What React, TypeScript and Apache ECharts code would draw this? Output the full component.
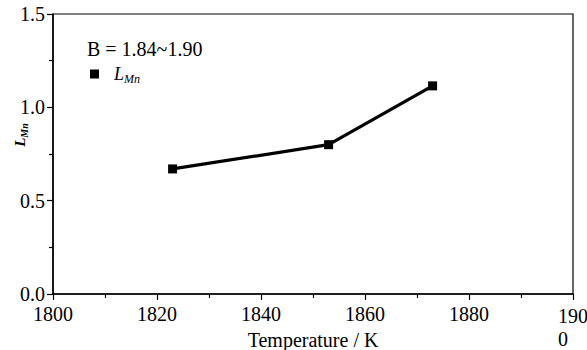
import React, { useEffect, useRef } from "react";
import * as echarts from "echarts";

const temperatures: number[] = [1823, 1853, 1873];
const lMnValues: number[] = [0.67, 0.8, 1.115];
const seriesName = "LMn";
const annotation = "B = 1.84~1.90";
const xTitle = "Temperature / K";

const FONT = "'Liberation Serif', 'Times New Roman', serif";

export default function App() {
  const ref = useRef<HTMLDivElement>(null);
  useEffect(() => {
    if (!ref.current) return;
    const chart = echarts.init(ref.current, null, { renderer: "svg" });
    const data = temperatures.map((t, i) => [t, lMnValues[i]]);
    chart.setOption({
      animation: false,
      backgroundColor: "#fff",
      grid: {
        left: 53,
        right: 14,
        top: 14,
        bottom: 56,
        containLabel: false,
        outerBoundsMode: "none",
        show: true,
        borderColor: "#000",
        borderWidth: 1.2,
      },
      title: {
        text: annotation,
        left: 82,
        top: 34,
        textStyle: { fontFamily: FONT, fontSize: 20, fontWeight: "normal", color: "#000" },
      },
      legend: {
        left: 85,
        top: 60,
        icon: "rect",
        itemWidth: 9,
        itemHeight: 9,
        itemGap: 0,
        data: [seriesName],
        formatter: () => "{i|L}{s|Mn}",
        textStyle: {
          color: "#000",
          padding: [0, 0, 0, 10],
          rich: {
            i: { fontFamily: FONT, fontSize: 18, fontStyle: "italic", color: "#000" },
            s: { fontFamily: FONT, fontSize: 12, fontStyle: "italic", color: "#000", padding: [10, 0, 0, 0] },
          },
        },
      },
      xAxis: {
        type: "value",
        min: 1800,
        max: 1900,
        interval: 20,
        name: xTitle,
        nameLocation: "middle",
        nameGap: 36,
        nameMoveOverlap: false,
        nameTextStyle: { fontFamily: FONT, fontSize: 20, color: "#000" },
        axisLine: { show: true, lineStyle: { color: "#000", width: 1.5 } },
        axisTick: { show: true, inside: false, length: 6, lineStyle: { color: "#000", width: 1.2 } },
        minorTick: { show: true, splitNumber: 2, length: 4, lineStyle: { color: "#000", width: 1.2 } },
        splitLine: { show: false },
        axisLabel: {
          fontFamily: FONT,
          fontSize: 20,
          color: "#000",
          margin: 10,
          formatter: (v: number) => (v === 1900 ? "{l|190}\n{l|0}" : String(v)),
          rich: {
            l: { fontFamily: FONT, fontSize: 20, color: "#000", width: 30, align: "left", lineHeight: 23 },
          },
        },
      },
      yAxis: {
        type: "value",
        min: 0,
        max: 1.5,
        interval: 0.5,
        name: "{m|L}{s|Mn}",
        nameLocation: "middle",
        nameGap: 24,
        nameRotate: 90,
        nameMoveOverlap: false,
        nameTextStyle: {
          padding: [0, 0, 0, 38],
          rich: {
            m: { fontFamily: FONT, fontSize: 15, fontStyle: "italic", fontWeight: "bold", color: "#000" },
            s: { fontFamily: FONT, fontSize: 10, fontStyle: "italic", fontWeight: "bold", color: "#000", padding: [8, 0, 0, 0] },
          },
        },
        axisLine: { show: true, lineStyle: { color: "#000", width: 1.5 } },
        axisTick: { show: true, inside: false, length: 6, lineStyle: { color: "#000", width: 1.2 } },
        minorTick: { show: true, splitNumber: 2, length: 4, lineStyle: { color: "#000", width: 1.2 } },
        splitLine: { show: false },
        axisLabel: {
          fontFamily: FONT,
          fontSize: 20,
          color: "#000",
          margin: 8,
          formatter: (v: number) => v.toFixed(1),
        },
      },
      series: [
        {
          name: seriesName,
          type: "line",
          data,
          symbol: "rect",
          symbolSize: 9,
          itemStyle: { color: "#000" },
          lineStyle: { color: "#000", width: 3.2 },
        },
      ],
    });
    return () => chart.dispose();
  }, []);
  return <div ref={ref} style={{ width: 587, height: 350, position: "absolute", left: 0, top: 0 }} />;
}
